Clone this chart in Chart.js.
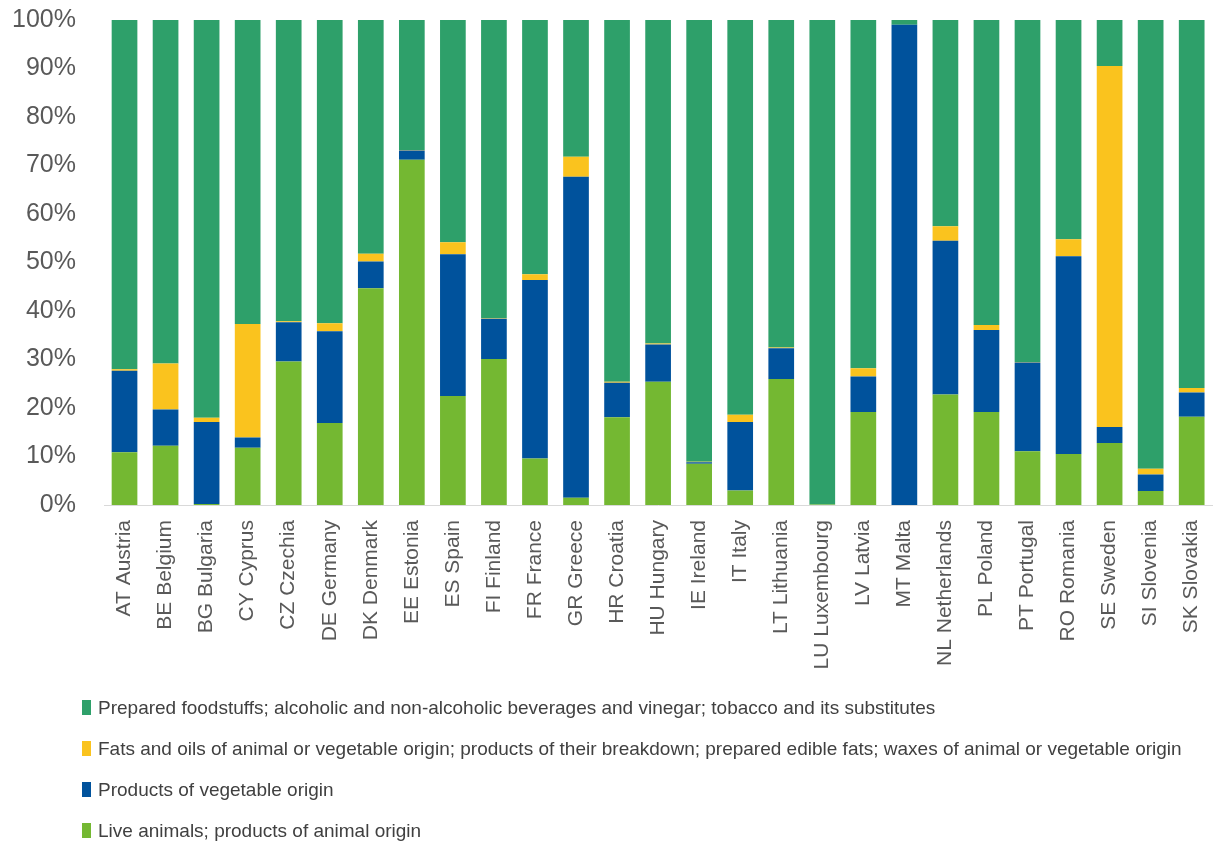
<!DOCTYPE html>
<html>
<head>
<meta charset="utf-8">
<script src="https://cdn.jsdelivr.net/npm/chart.js@4"></script>
<style>
  body { margin: 0; background: #fff; }
  #wrap { position: relative; width: 1232px; height: 841px; overflow: hidden; }
  #chart { position: absolute; left: 0; top: -23px; }
  #legend { position: absolute; left: 82px; top: 687px; font-family: "Liberation Sans", Arial, sans-serif; font-size: 19px; color: #404040; }
  .item { display: flex; align-items: center; height: 41px; }
  .swatch { width: 9px; height: 15px; margin-right: 7px; }
</style>
</head>
<body>
<div id="wrap">
  <canvas id="chart" width="1232" height="713"></canvas>
  <div id="legend"></div>
</div>
<script>
const countries = [
  "AT Austria", "BE Belgium", "BG Bulgaria", "CY Cyprus", "CZ Czechia", "DE Germany",
  "DK Denmark", "EE Estonia", "ES Spain", "FI Finland", "FR France", "GR Greece",
  "HR Croatia", "HU Hungary", "IE Ireland", "IT Italy", "LT Lithuania", "LU Luxembourg",
  "LV Latvia", "MT Malta", "NL Netherlands", "PL Poland", "PT Portugal", "RO Romania",
  "SE Sweden", "SI Slovenia", "SK Slovakia",
];

// shares in %, stacked bottom to top
const liveAnimals = [
  10.9, 12.2, 0.2, 11.8, 29.6, 16.9, 44.7, 71.2, 22.5, 30.1, 9.6, 1.5, 18.1, 25.4,
  8.5, 3.0, 26.0, 0.1, 19.2, 0.0, 22.8, 19.2, 11.1, 10.5, 12.8, 2.9, 18.2,
];
const vegetable = [
  16.8, 7.5, 16.9, 2.1, 8.1, 18.9, 5.5, 1.9, 29.2, 8.3, 36.8, 66.2, 7.1, 7.7,
  0.3, 14.1, 6.3, 0.0, 7.3, 99.0, 31.7, 16.9, 18.3, 40.8, 3.3, 3.4, 5.0,
];
const fatsOils = [
  0.3, 9.5, 0.9, 23.4, 0.2, 1.7, 1.6, 0.1, 2.5, 0.1, 1.2, 4.1, 0.2, 0.2,
  0.1, 1.5, 0.2, 0.0, 1.7, 0.0, 3.0, 1.0, 0.1, 3.5, 74.4, 1.2, 0.9,
];
const prepared = [
  72.0, 70.8, 82.0, 62.7, 62.1, 62.5, 48.2, 26.8, 45.8, 61.5, 52.4, 28.2, 74.6, 66.7,
  91.1, 81.4, 67.5, 99.9, 71.8, 1.0, 42.5, 62.9, 70.5, 45.2, 9.5, 92.5, 75.9,
];

const yTicks = [0, 10, 20, 30, 40, 50, 60, 70, 80, 90, 100];

const datasets = [
  { label: "Live animals; products of animal origin", data: liveAnimals, backgroundColor: "#74b832" },
  { label: "Products of vegetable origin", data: vegetable, backgroundColor: "#00529c" },
  { label: "Fats and oils of animal or vegetable origin; products of their breakdown; prepared edible fats; waxes of animal or vegetable origin", data: fatsOils, backgroundColor: "#fac31e" },
  { label: "Prepared foodstuffs; alcoholic and non-alcoholic beverages and vinegar; tobacco and its substitutes", data: prepared, backgroundColor: "#2ea06a" },
];

const chart = new Chart(document.getElementById("chart"), {
  type: "bar",
  data: {
    labels: countries,
    datasets: datasets.map((d) => ({ ...d, barPercentage: 0.626, categoryPercentage: 1 })),
  },
  options: {
    responsive: false,
    animation: false,
    layout: { padding: { top: 0, right: 6, left: 0, bottom: 0 } },
    plugins: { legend: { display: false }, tooltip: { enabled: false } },
    scales: {
      x: {
        stacked: true,
        grid: { display: false, drawTicks: false },
        border: { display: true, color: "#d9d9d9", width: 1 },
        ticks: {
          autoSkip: false,
          minRotation: 90,
          maxRotation: 90,
          padding: 15,
          color: "#595959",
          font: { family: "Liberation Sans", size: 21 },
        },
        afterFit: (s) => { s.height = 185; },
      },
      y: {
        stacked: true,
        min: 0,
        max: 100,
        afterBuildTicks: (s) => { s.ticks = yTicks.map((v) => ({ value: v })); },
        grid: { display: false, drawTicks: false },
        border: { display: false },
        ticks: {
          padding: 28,
          color: "#595959",
          font: { family: "Liberation Sans", size: 25 },
          callback: (v) => v + "%",
        },
        afterFit: (s) => { s.width = 104; },
      },
    },
  },
});

// legend lists the series top of stack first
const legend = document.getElementById("legend");
[...datasets].reverse().forEach((d) => {
  const row = document.createElement("div");
  row.className = "item";
  row.innerHTML = '<span class="swatch" style="background:' + d.backgroundColor + '"></span><span>' + d.label + "</span>";
  legend.appendChild(row);
});
</script>
</body>
</html>
